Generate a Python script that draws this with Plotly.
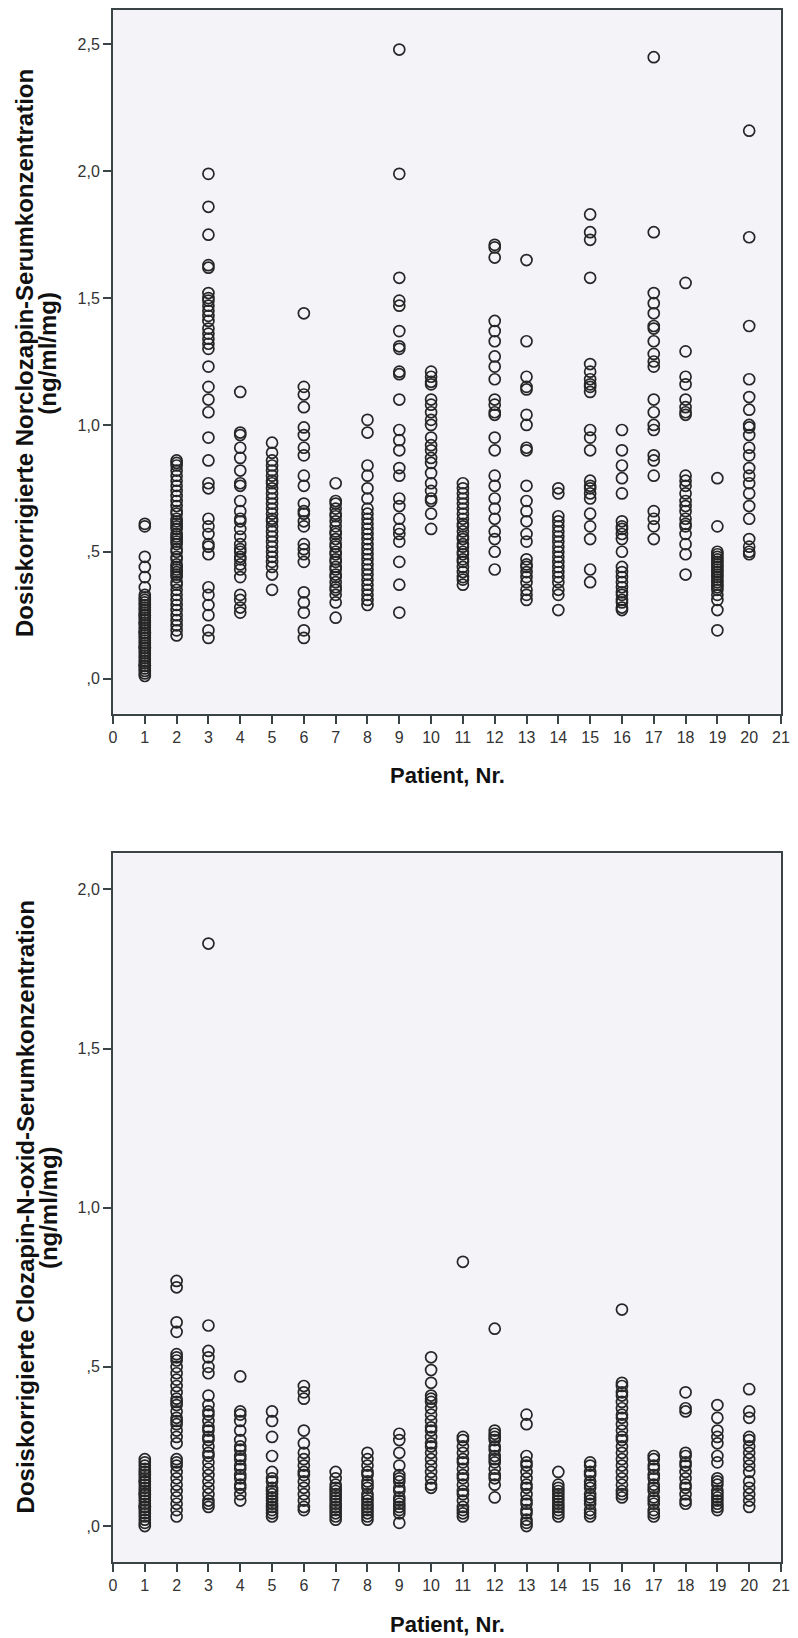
import plotly.graph_objects as go

patients = list(range(1, 21))
x_tick_vals = list(range(0, 22))
x_tick_text = [str(v) for v in x_tick_vals]
y1_tick_vals = [0.0, 0.5, 1.0, 1.5, 2.0, 2.5]
y1_tick_text = [",0", ",5", "1,0", "1,5", "2,0", "2,5"]
y2_tick_vals = [0.0, 0.5, 1.0, 1.5, 2.0]
y2_tick_text = [",0", ",5", "1,0", "1,5", "2,0"]

y1_title = "Dosiskorrigierte Norclozapin-Serumkonzentration"
y2_title = "Dosiskorrigierte Clozapin-N-oxid-Serumkonzentration"
y_unit = "(ng/ml/mg)"
x_title = "Patient, Nr."

# Norclozapin (top panel), per patient
ncl_01 = [0.61, 0.60, 0.48, 0.44, 0.40, 0.36, 0.33, 0.32, 0.31, 0.30, 0.29, 0.28, 0.27, 0.26, 0.25, 0.24,
          0.23, 0.22, 0.21, 0.20, 0.19, 0.18, 0.17, 0.16, 0.15, 0.14, 0.13, 0.12, 0.11, 0.10, 0.09, 0.08,
          0.07, 0.06, 0.05, 0.04, 0.03, 0.02, 0.01, 0.25, 0.22, 0.18, 0.12, 0.05]
ncl_02 = [0.86, 0.85, 0.84, 0.82, 0.80, 0.78, 0.76, 0.74, 0.72, 0.70, 0.68, 0.66, 0.65, 0.63, 0.62, 0.60,
          0.59, 0.57, 0.56, 0.54, 0.53, 0.51, 0.50, 0.48, 0.47, 0.45, 0.44, 0.42, 0.41, 0.40, 0.38, 0.37,
          0.35, 0.33, 0.31, 0.29, 0.27, 0.25, 0.23, 0.21, 0.19, 0.17, 0.61, 0.55, 0.43]
ncl_03 = [1.99, 1.86, 1.75, 1.63, 1.62, 1.52, 1.50, 1.49, 1.47, 1.45, 1.43, 1.41, 1.38, 1.36, 1.34, 1.32,
          1.30, 1.23, 1.15, 1.10, 1.05, 0.95, 0.86, 0.77, 0.75, 0.63, 0.60, 0.57, 0.53, 0.52, 0.49, 0.36,
          0.33, 0.29, 0.25, 0.19, 0.16]
ncl_04 = [1.13, 0.97, 0.96, 0.91, 0.87, 0.82, 0.77, 0.76, 0.70, 0.66, 0.63, 0.62, 0.59, 0.56, 0.53, 0.51,
          0.50, 0.48, 0.47, 0.45, 0.43, 0.40, 0.33, 0.31, 0.28, 0.26]
ncl_05 = [0.93, 0.89, 0.86, 0.84, 0.82, 0.80, 0.78, 0.77, 0.75, 0.73, 0.71, 0.69, 0.67, 0.65, 0.63, 0.62,
          0.60, 0.58, 0.56, 0.54, 0.52, 0.50, 0.48, 0.46, 0.44, 0.41, 0.35]
ncl_06 = [1.44, 1.15, 1.12, 1.07, 0.99, 0.96, 0.91, 0.88, 0.80, 0.76, 0.69, 0.66, 0.65, 0.62, 0.60, 0.53,
          0.51, 0.49, 0.46, 0.34, 0.30, 0.26, 0.19, 0.16]
ncl_07 = [0.77, 0.70, 0.69, 0.67, 0.65, 0.64, 0.62, 0.60, 0.58, 0.57, 0.55, 0.53, 0.52, 0.50, 0.49, 0.47,
          0.46, 0.44, 0.43, 0.41, 0.40, 0.38, 0.36, 0.35, 0.33, 0.30, 0.24]
ncl_08 = [1.02, 0.97, 0.84, 0.80, 0.75, 0.71, 0.67, 0.65, 0.63, 0.61, 0.59, 0.57, 0.55, 0.53, 0.51, 0.49,
          0.47, 0.45, 0.43, 0.41, 0.39, 0.37, 0.35, 0.33, 0.31, 0.29]
ncl_09 = [2.48, 1.99, 1.58, 1.49, 1.47, 1.37, 1.31, 1.30, 1.21, 1.20, 1.10, 0.98, 0.94, 0.90, 0.83, 0.80,
          0.71, 0.68, 0.63, 0.59, 0.57, 0.54, 0.46, 0.37, 0.26]
ncl_10 = [1.21, 1.19, 1.17, 1.16, 1.10, 1.08, 1.05, 1.02, 1.00, 0.95, 0.92, 0.90, 0.87, 0.85, 0.81, 0.77,
          0.74, 0.71, 0.70, 0.65, 0.59]
ncl_11 = [0.77, 0.75, 0.73, 0.71, 0.69, 0.67, 0.65, 0.63, 0.61, 0.60, 0.58, 0.56, 0.55, 0.53, 0.52, 0.50,
          0.49, 0.47, 0.46, 0.44, 0.42, 0.40, 0.39, 0.37]
ncl_12 = [1.71, 1.70, 1.66, 1.41, 1.37, 1.33, 1.27, 1.23, 1.18, 1.10, 1.08, 1.05, 1.04, 0.95, 0.90, 0.80,
          0.76, 0.71, 0.67, 0.63, 0.58, 0.55, 0.50, 0.43]
ncl_13 = [1.65, 1.33, 1.19, 1.15, 1.14, 1.04, 1.00, 0.91, 0.90, 0.76, 0.70, 0.66, 0.62, 0.57, 0.54, 0.47,
          0.45, 0.44, 0.42, 0.40, 0.38, 0.35, 0.33, 0.31]
ncl_14 = [0.75, 0.73, 0.64, 0.62, 0.60, 0.58, 0.56, 0.54, 0.52, 0.50, 0.48, 0.46, 0.44, 0.42, 0.40, 0.38,
          0.35, 0.33, 0.27]
ncl_15 = [1.83, 1.76, 1.73, 1.58, 1.24, 1.21, 1.18, 1.16, 1.15, 1.13, 0.98, 0.95, 0.90, 0.78, 0.76, 0.75,
          0.73, 0.71, 0.65, 0.60, 0.55, 0.43, 0.38]
ncl_16 = [0.98, 0.90, 0.84, 0.79, 0.73, 0.62, 0.60, 0.59, 0.57, 0.55, 0.50, 0.44, 0.42, 0.40, 0.38, 0.36,
          0.34, 0.33, 0.31, 0.30, 0.28, 0.27]
ncl_17 = [2.45, 1.76, 1.52, 1.48, 1.44, 1.39, 1.38, 1.33, 1.28, 1.25, 1.23, 1.10, 1.05, 1.00, 0.98, 0.88,
          0.86, 0.80, 0.66, 0.63, 0.60, 0.55]
ncl_18 = [1.56, 1.29, 1.19, 1.16, 1.10, 1.07, 1.05, 1.04, 0.80, 0.78, 0.76, 0.73, 0.70, 0.68, 0.66, 0.63,
          0.61, 0.60, 0.57, 0.53, 0.49, 0.41]
ncl_19 = [0.79, 0.60, 0.50, 0.49, 0.48, 0.47, 0.46, 0.45, 0.44, 0.43, 0.42, 0.41, 0.40, 0.39, 0.38, 0.37,
          0.36, 0.35, 0.33, 0.31, 0.27, 0.19]
ncl_20 = [2.16, 1.74, 1.39, 1.18, 1.11, 1.06, 1.00, 0.99, 0.96, 0.91, 0.88, 0.83, 0.80, 0.77, 0.73, 0.68,
          0.63, 0.55, 0.52, 0.50, 0.49]

# Clozapin-N-oxid (bottom panel), per patient
nox_01 = [0.21, 0.20, 0.19, 0.18, 0.17, 0.16, 0.15, 0.14, 0.13, 0.12, 0.11, 0.10, 0.09, 0.08, 0.07, 0.06,
          0.05, 0.04, 0.03, 0.02, 0.01, 0.00, 0.14, 0.10, 0.06]
nox_02 = [0.77, 0.75, 0.64, 0.61, 0.54, 0.53, 0.52, 0.50, 0.48, 0.46, 0.44, 0.42, 0.40, 0.39, 0.38, 0.36,
          0.34, 0.33, 0.32, 0.30, 0.28, 0.26, 0.21, 0.20, 0.19, 0.17, 0.15, 0.13, 0.11, 0.09, 0.07, 0.05, 0.03]
nox_03 = [1.83, 0.63, 0.55, 0.53, 0.50, 0.48, 0.41, 0.38, 0.36, 0.35, 0.33, 0.31, 0.30, 0.28, 0.27, 0.25,
          0.23, 0.22, 0.20, 0.18, 0.16, 0.14, 0.12, 0.10, 0.08, 0.07, 0.06]
nox_04 = [0.47, 0.36, 0.35, 0.33, 0.30, 0.27, 0.25, 0.24, 0.22, 0.21, 0.19, 0.18, 0.16, 0.15, 0.13, 0.12,
          0.10, 0.08]
nox_05 = [0.36, 0.33, 0.28, 0.22, 0.17, 0.15, 0.14, 0.12, 0.11, 0.10, 0.09, 0.08, 0.07, 0.06, 0.05, 0.04, 0.03]
nox_06 = [0.44, 0.42, 0.40, 0.30, 0.26, 0.23, 0.21, 0.19, 0.17, 0.16, 0.14, 0.12, 0.10, 0.08, 0.06, 0.05]
nox_07 = [0.17, 0.15, 0.13, 0.12, 0.11, 0.10, 0.09, 0.08, 0.07, 0.06, 0.05, 0.04, 0.03, 0.02]
nox_08 = [0.23, 0.21, 0.19, 0.17, 0.16, 0.14, 0.13, 0.12, 0.10, 0.09, 0.08, 0.07, 0.06, 0.05, 0.04, 0.03, 0.02]
nox_09 = [0.29, 0.27, 0.23, 0.19, 0.16, 0.15, 0.14, 0.12, 0.11, 0.09, 0.08, 0.07, 0.06, 0.05, 0.04, 0.01]
nox_10 = [0.53, 0.49, 0.45, 0.41, 0.40, 0.39, 0.37, 0.35, 0.33, 0.31, 0.30, 0.28, 0.26, 0.25, 0.23, 0.21,
          0.19, 0.17, 0.15, 0.13, 0.12]
nox_11 = [0.83, 0.28, 0.27, 0.25, 0.23, 0.21, 0.20, 0.18, 0.16, 0.15, 0.13, 0.11, 0.10, 0.08, 0.06, 0.05,
          0.04, 0.03]
nox_12 = [0.62, 0.30, 0.29, 0.28, 0.27, 0.25, 0.24, 0.22, 0.21, 0.20, 0.18, 0.16, 0.15, 0.13, 0.09]
nox_13 = [0.35, 0.32, 0.22, 0.20, 0.19, 0.17, 0.15, 0.13, 0.12, 0.10, 0.08, 0.07, 0.05, 0.04, 0.02, 0.01, 0.00]
nox_14 = [0.17, 0.13, 0.12, 0.11, 0.10, 0.09, 0.08, 0.07, 0.06, 0.05, 0.04, 0.03]
nox_15 = [0.20, 0.19, 0.17, 0.16, 0.14, 0.13, 0.12, 0.10, 0.09, 0.08, 0.07, 0.05, 0.04, 0.03]
nox_16 = [0.68, 0.45, 0.44, 0.42, 0.41, 0.39, 0.37, 0.35, 0.34, 0.32, 0.30, 0.28, 0.27, 0.25, 0.23, 0.21,
          0.19, 0.17, 0.15, 0.13, 0.11, 0.10, 0.09]
nox_17 = [0.22, 0.21, 0.19, 0.18, 0.16, 0.15, 0.13, 0.12, 0.11, 0.09, 0.08, 0.07, 0.05, 0.04, 0.03]
nox_18 = [0.42, 0.37, 0.36, 0.23, 0.22, 0.20, 0.19, 0.17, 0.15, 0.13, 0.12, 0.10, 0.08, 0.07]
nox_19 = [0.38, 0.34, 0.30, 0.28, 0.26, 0.22, 0.20, 0.15, 0.14, 0.13, 0.11, 0.10, 0.09, 0.08, 0.07, 0.06, 0.05]
nox_20 = [0.43, 0.36, 0.34, 0.28, 0.27, 0.25, 0.23, 0.21, 0.19, 0.17, 0.14, 0.12, 0.10, 0.08, 0.06]

ncl_series = [ncl_01, ncl_02, ncl_03, ncl_04, ncl_05, ncl_06, ncl_07, ncl_08, ncl_09, ncl_10,
              ncl_11, ncl_12, ncl_13, ncl_14, ncl_15, ncl_16, ncl_17, ncl_18, ncl_19, ncl_20]
nox_series = [nox_01, nox_02, nox_03, nox_04, nox_05, nox_06, nox_07, nox_08, nox_09, nox_10,
              nox_11, nox_12, nox_13, nox_14, nox_15, nox_16, nox_17, nox_18, nox_19, nox_20]


def flatten(series):
    xs, ys = [], []
    for p, vals in zip(patients, series):
        xs.extend([p] * len(vals))
        ys.extend(vals)
    return xs, ys


x1, y1 = flatten(ncl_series)
x2, y2 = flatten(nox_series)

W, H = 798, 1638
ML, MR, MT, MB = 113, 8, 9, 76
PW = W - ML - MR
PH = H - MT - MB


def py(pix):
    return 1 - (pix - MT) / PH


def px(pix):
    return (pix - ML) / PW


marker = dict(symbol="circle-open", size=11, color="#262626", line=dict(width=1.7, color="#262626"))

fig = go.Figure()
fig.add_trace(go.Scatter(x=x1, y=y1, mode="markers", marker=marker, xaxis="x", yaxis="y",
                         showlegend=False, hoverinfo="x+y"))
fig.add_trace(go.Scatter(x=x2, y=y2, mode="markers", marker=marker, xaxis="x2", yaxis="y2",
                         showlegend=False, hoverinfo="x+y"))

axis_line = dict(showline=True, linecolor="#3a4346", linewidth=2, mirror=True, showgrid=False,
                 zeroline=False, ticks="outside", tickcolor="#3a4346", tickwidth=1.5,
                 tickfont=dict(family="Liberation Sans, Arial", size=16, color="#333333"))

xaxis_common = dict(axis_line, range=[0, 21], tickvals=x_tick_vals, ticktext=x_tick_text,
                    ticklen=8, ticklabelstandoff=0)

fig.update_layout(
    width=W, height=H,
    margin=dict(l=ML, r=MR, t=MT, b=MB, pad=0),
    paper_bgcolor="white",
    plot_bgcolor="#f3f3f8",
    xaxis=dict(xaxis_common, domain=[0, 1], anchor="y"),
    yaxis=dict(axis_line, domain=[py(713), py(9)], range=[-0.138, 2.636], anchor="x",
               tickvals=y1_tick_vals, ticktext=y1_tick_text, ticklen=8),
    xaxis2=dict(xaxis_common, domain=[0, 1], anchor="y2"),
    yaxis2=dict(axis_line, domain=[py(1562), py(853)], range=[-0.113, 2.113], anchor="x2",
                tickvals=y2_tick_vals, ticktext=y2_tick_text, ticklen=8),
)

title_font = dict(family="Liberation Sans, Arial", size=24, color="#111111")
ann = []
for yc, t in [(352, y1_title), (1207, y2_title)]:
    ann.append(dict(text="<b>%s</b>" % t, xref="paper", yref="paper", x=px(24), y=py(yc),
                    xanchor="center", yanchor="middle", textangle=-90, showarrow=False, font=title_font))
    ann.append(dict(text="<b>%s</b>" % y_unit, xref="paper", yref="paper", x=px(47), y=py(yc),
                    xanchor="center", yanchor="middle", textangle=-90, showarrow=False, font=title_font))
for yc in [775, 1625]:
    ann.append(dict(text="<b>%s</b>" % x_title, xref="paper", yref="paper", x=0.5, y=py(yc),
                    xanchor="center", yanchor="middle", showarrow=False, font=dict(title_font, size=22)))
fig.update_layout(annotations=ann)

fig.write_html("out.html")
